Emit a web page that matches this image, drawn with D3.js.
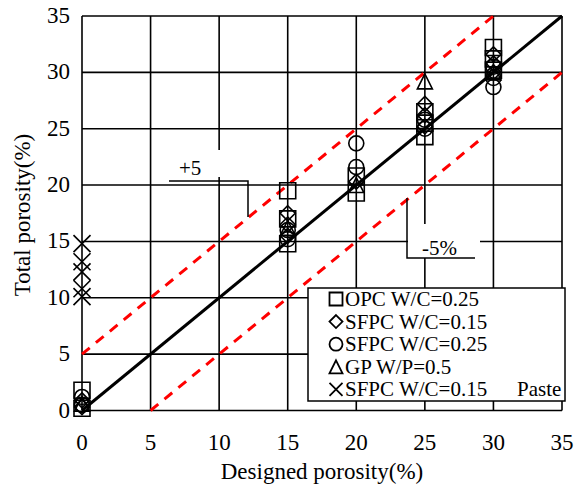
<!DOCTYPE html>
<html>
<head>
<meta charset="utf-8">
<script src="https://cdn.jsdelivr.net/npm/d3@7"></script>
<style>
  body { margin: 0; background: #fff; }
  text { font-family: "Liberation Serif", "Times New Roman", serif; fill: #000; }
</style>
</head>
<body>
<svg id="chart" width="575" height="491"></svg>
<script>
// ticks and series (designed porosity, measured total porosity)
const tickValues = [0, 5, 10, 15, 20, 25, 30, 35];
const opcW025 = [[0, 0.2], [0, 1.8], [15, 14.8], [15, 17], [15, 19.5], [20, 19.3], [20, 20.8], [25, 24.3], [25, 25.5], [25, 26.5], [30, 30.2], [30, 31.2], [30, 32.2]];
const sfpcW015 = [[0, 0.3], [0, 0.9], [15, 15.5], [15, 16.5], [15, 17.5], [20, 20.3], [25, 25.2], [25, 26.2], [25, 27.2], [30, 30], [30, 30.8], [30, 31.6]];
const sfpcW025 = [[0, 0.5], [0, 1.2], [15, 15.2], [15, 16], [20, 21.6], [20, 23.7], [25, 25], [25, 25.8], [30, 28.7], [30, 29.5], [30, 30.5]];
const gpW05 = [[0, 0.6], [15, 16.2], [20, 20], [25, 29.2], [30, 30]];
const sfpcPaste = [[0, 10.1], [0, 10.8], [0, 12.3], [0, 13.2], [0, 14.8]];
const legendLabels = ["OPC W/C=0.25", "SFPC W/C=0.15", "SFPC W/C=0.25", "GP W/P=0.5", "SFPC W/C=0.15"];

const svg = d3.select("#chart");
const x = d3.scaleLinear().domain([0, 35]).range([82, 562]);
const y = d3.scaleLinear().domain([0, 35]).range([410.5, 16]);

// grid
const grid = svg.append("g").attr("stroke", "#000").attr("stroke-width", 1.6);
tickValues.forEach(v => {
  grid.append("line").attr("x1", x(v)).attr("x2", x(v)).attr("y1", y(0)).attr("y2", y(35));
  grid.append("line").attr("x1", x(0)).attr("x2", x(35)).attr("y1", y(v)).attr("y2", y(v));
});

// white boxes behind the annotations
svg.append("rect").attr("x", 165).attr("y", 150).attr("width", 84).attr("height", 27).attr("fill", "#fff");
svg.append("rect").attr("x", 408).attr("y", 224).attr("width", 72).attr("height", 34).attr("fill", "#fff");

// tick labels
svg.append("g").selectAll("text").data(tickValues).join("text")
  .attr("x", d => x(d)).attr("y", 450).attr("text-anchor", "middle")
  .attr("font-size", 23).text(d => d);
svg.append("g").selectAll("text").data(tickValues).join("text")
  .attr("x", 70).attr("y", d => y(d) + 7).attr("text-anchor", "end")
  .attr("font-size", 23).text(d => d);

// axis titles
svg.append("text").attr("x", 322).attr("y", 479).attr("text-anchor", "middle")
  .attr("font-size", 23).text("Designed porosity(%)");
svg.append("text").attr("transform", "translate(30,215) rotate(-90)").attr("text-anchor", "middle")
  .attr("font-size", 23).text("Total porosity(%)");

// reference lines
const line = d3.line().x(d => x(d[0])).y(d => y(d[1]));
svg.append("path").attr("d", line([[0, 5], [30, 35]])).attr("stroke", "#f00")
  .attr("stroke-width", 3).attr("stroke-dasharray", "10,8").attr("fill", "none");
svg.append("path").attr("d", line([[5, 0], [35, 30]])).attr("stroke", "#f00")
  .attr("stroke-width", 3).attr("stroke-dasharray", "10,8").attr("fill", "none");
svg.append("path").attr("d", line([[0, 0], [35, 35]])).attr("stroke", "#000")
  .attr("stroke-width", 3).attr("fill", "none");

// annotations
const ann = svg.append("g").attr("stroke", "#000").attr("stroke-width", 1.5).attr("fill", "none");
ann.append("path").attr("d", "M169,181H248V217");
ann.append("path").attr("d", "M407,198V258H475");
svg.append("text").attr("x", 179).attr("y", 175).attr("font-size", 21).text("+5");
svg.append("text").attr("x", 422).attr("y", 255).attr("font-size", 21).text("-5%");

// marker shapes
const shapes = {
  square: s => `M${-s / 2},${-s / 2}h${s}v${s}h${-s}Z`,
  diamond: s => `M0,${-s / 2}L${s / 2},0L0,${s / 2}L${-s / 2},0Z`,
  circle: s => `M${s / 2},0A${s / 2},${s / 2} 0 1,1 ${-s / 2},0A${s / 2},${s / 2} 0 1,1 ${s / 2},0Z`,
  triangle: s => `M0,${-s / 2}L${s / 2},${s / 2}H${-s / 2}Z`,
  cross: s => `M${-s / 2},${-s / 2}L${s / 2},${s / 2}M${s / 2},${-s / 2}L${-s / 2},${s / 2}`
};

const series = [
  { data: opcW025, shape: "square", size: 16 },
  { data: sfpcW015, shape: "diamond", size: 15 },
  { data: sfpcW025, shape: "circle", size: 15 },
  { data: gpW05, shape: "triangle", size: 15 },
  { data: sfpcPaste, shape: "cross", size: 17 }
];

series.forEach(s => {
  svg.append("g").selectAll("path").data(s.data).join("path")
    .attr("transform", d => `translate(${x(d[0])},${y(d[1])})`)
    .attr("d", shapes[s.shape](s.size))
    .attr("fill", "none").attr("stroke", "#000").attr("stroke-width", 1.6);
});

// legend
const lg = svg.append("g");
lg.append("rect").attr("x", 308).attr("y", 288).attr("width", 257).attr("height", 113)
  .attr("fill", "#fff").attr("stroke", "#000").attr("stroke-width", 1.5);
series.forEach((s, i) => {
  const cy = 299 + i * 22.6;
  lg.append("path").attr("transform", `translate(336,${cy})`).attr("d", shapes[s.shape](13))
    .attr("fill", "none").attr("stroke", "#000").attr("stroke-width", 1.8);
  lg.append("text").attr("x", 345).attr("y", cy + 7).attr("font-size", 21).text(legendLabels[i]);
});
lg.append("text").attr("x", 517).attr("y", 299 + 4 * 22.6 + 7).attr("font-size", 21).text("Paste");
</script>
</body>
</html>
